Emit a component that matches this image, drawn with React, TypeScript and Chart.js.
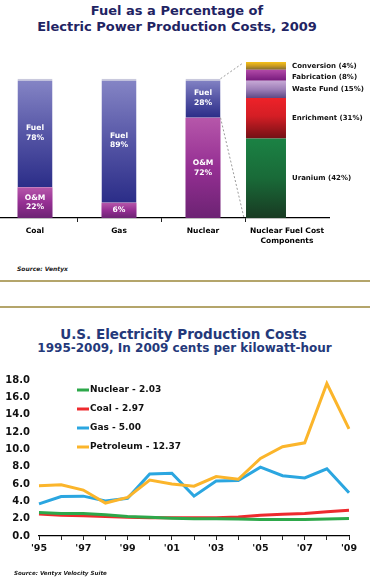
import React, { useEffect, useRef } from "react";
import { Chart, registerables } from "chart.js";

Chart.register(...registerables);

const FONT = '"DejaVu Sans", "Noto Sans", sans-serif';

// ---------- Top chart data ----------
const costCategories: (string | string[])[] = ["Coal", "Gas", "Nuclear", ["Nuclear Fuel Cost", "Components"]];
const omShare = [22, 11, 72, null];
const fuelShare = [78, 89, 28, null];
const omLabels = [["O&M", "22%"], ["6%"], ["O&M", "72%"]];
const fuelLabels = [["Fuel", "78%"], ["Fuel", "89%"], ["Fuel", "28%"]];
const componentNames = ["Uranium (42%)", "Enrichment (31%)", "Waste Fund (15%)", "Fabrication (8%)", "Conversion (4%)"];
const componentShare = [51, 26, 11, 7, 5];
const componentSlots = ["", "", "", "", "", "", "", ""];
const componentSlotIndex = 6;

// ---------- Bottom chart data ----------
const yearLabels = ["'95", "'96", "'97", "'98", "'99", "'00", "'01", "'02", "'03", "'04", "'05", "'06", "'07", "'08", "'09"];
const nuclearCost = [2.7, 2.6, 2.6, 2.45, 2.25, 2.15, 2.05, 2.0, 2.0, 1.95, 1.9, 1.9, 1.9, 1.95, 2.03];
const coalCost = [2.55, 2.4, 2.35, 2.25, 2.15, 2.1, 2.1, 2.1, 2.1, 2.2, 2.4, 2.5, 2.6, 2.8, 2.97];
const gasCost = [3.7, 4.55, 4.6, 4.05, 4.35, 7.15, 7.25, 4.6, 6.35, 6.4, 7.95, 6.95, 6.7, 7.75, 5.0];
const petroleumCost = [5.8, 5.9, 5.3, 3.8, 4.45, 6.45, 6.0, 5.75, 6.85, 6.55, 8.95, 10.3, 10.75, 17.6, 12.37];
const seriesNames = ["Nuclear - 2.03", "Coal - 2.97", "Gas - 5.00", "Petroleum - 12.37"];
const seriesColors = ["#2da84a", "#ee2a2e", "#2ba6e0", "#fbb52b"];
const yTicks = [0, 2, 4, 6, 8, 10, 12, 14, 16, 18];

type Stop = [number, string];

const makeGrad = (stops: Stop[]) => (c: any) => {
  const chart = c.chart;
  if (c.type !== "data") return stops[0][1];
  const ds = chart.data.datasets[c.datasetIndex];
  const axisId = ds.yAxisID || "y";
  const yScale = chart.scales[axisId];
  if (!yScale) return stops[0][1];
  let base = 0;
  for (let k = 0; k < c.datasetIndex; k++) {
    const d = chart.data.datasets[k];
    if ((d.yAxisID || "y") === axisId) base += Number(d.data[c.dataIndex]) || 0;
  }
  const val = Number(ds.data[c.dataIndex]) || 0;
  const top = yScale.getPixelForValue(base + val);
  const bottom = yScale.getPixelForValue(base);
  if (!isFinite(top) || !isFinite(bottom) || top === bottom) return stops[0][1];
  const g = chart.ctx.createLinearGradient(0, top, 0, bottom);
  stops.forEach(([o, col]) => g.addColorStop(o, col));
  return g;
};

const componentGrads: Stop[][] = [
  [[0, "#1b8244"], [0.5, "#196a38"], [1, "#183a22"]],
  [[0, "#ee2229"], [0.45, "#d41e25"], [1, "#731015"]],
  [[0, "#c7a9d6"], [0.5, "#9e7fb8"], [1, "#5e4a86"]],
  [[0, "#b24aa8"], [1, "#761a7c"]],
  [[0, "#f6c21a"], [0.5, "#c99a22"], [1, "#7d6a30"]],
];

const topPlugin = {
  id: "topLabels",
  afterDatasetsDraw(chart: any) {
    const ctx = chart.ctx;
    ctx.save();
    const omMeta = chart.getDatasetMeta(0);
    const fuelMeta = chart.getDatasetMeta(1);
    ctx.fillStyle = "#ffffff";
    ctx.font = `bold 7.6px ${FONT}`;
    ctx.textAlign = "center";
    ctx.textBaseline = "middle";
    const drawLines = (lines: string[], x: number, cy: number, lh: number) =>
      lines.forEach((t, i) => ctx.fillText(t, x, cy + (i - (lines.length - 1) / 2) * lh));
    for (let j = 0; j < 3; j++) {
      const o = omMeta.data[j];
      const f = fuelMeta.data[j];
      drawLines(omLabels[j], o.x, (o.y + o.base) / 2, 9.4);
      drawLines(fuelLabels[j], f.x, (f.y + f.base) / 2, 9.4);
    }
    // component labels
    ctx.fillStyle = "#111";
    ctx.font = `bold 7px ${FONT}`;
    ctx.textAlign = "left";
    for (let k = 0; k < componentNames.length; k++) {
      const el = chart.getDatasetMeta(2 + k).data[componentSlotIndex];
      ctx.fillText(componentNames[k], el.x + el.width / 2 + 6, (el.y + el.base) / 2 + (k === 3 ? 1.5 : 0));
    }
    // dashed connectors
    const nuc = fuelMeta.data[2];
    const compTop = chart.getDatasetMeta(2 + componentNames.length - 1).data[componentSlotIndex];
    const compBottom = chart.getDatasetMeta(2).data[componentSlotIndex];
    ctx.setLineDash([2, 2]);
    ctx.strokeStyle = "#9a9a9a";
    ctx.lineWidth = 1;
    ctx.beginPath();
    ctx.moveTo(nuc.x + nuc.width / 2, nuc.y);
    ctx.lineTo(compTop.x - compTop.width / 2 - 3, compTop.y + 1);
    ctx.moveTo(nuc.x + nuc.width / 2, nuc.base);
    ctx.lineTo(compBottom.x - compBottom.width / 2 - 2, compBottom.base);
    ctx.stroke();
    ctx.restore();
  },
};

const legendPlugin = {
  id: "inlineLegend",
  afterDatasetsDraw(chart: any) {
    const ctx = chart.ctx;
    const { left, top } = chart.chartArea;
    ctx.save();
    ctx.font = `bold 9px ${FONT}`;
    ctx.textBaseline = "middle";
    ctx.textAlign = "left";
    seriesNames.forEach((name, i) => {
      const y = top + 10 + i * 19;
      ctx.strokeStyle = seriesColors[i];
      ctx.lineWidth = 3;
      ctx.beginPath();
      ctx.moveTo(left + 38, y);
      ctx.lineTo(left + 50, y);
      ctx.stroke();
      ctx.fillStyle = "#111";
      ctx.fillText(name, left + 51, y);
    });
    ctx.restore();
  },
};

function TopChart() {
  const ref = useRef<HTMLCanvasElement>(null);
  useEffect(() => {
    if (!ref.current) return;
    const compData = (v: number) => componentSlots.map((_, i) => (i === componentSlotIndex ? v : null));
    const chart = new Chart(ref.current, {
      type: "bar",
      data: {
        labels: costCategories as any,
        datasets: [
          {
            label: "O&M",
            data: omShare,
            xAxisID: "x",
            yAxisID: "y",
            stack: "main",
            grouped: false,
            backgroundColor: makeGrad([[0, "#b657aa"], [0.5, "#952f93"], [1, "#6c2373"]]),
            barPercentage: 0.417,
            categoryPercentage: 1,
            borderWidth: 0,
          },
          {
            label: "Fuel",
            data: fuelShare,
            xAxisID: "x",
            yAxisID: "y",
            stack: "main",
            grouped: false,
            backgroundColor: makeGrad([[0, "#8686c6"], [0.5, "#5656a6"], [1, "#2b2d88"]]),
            borderColor: "#c9c9dd",
            borderWidth: { top: 2, left: 0, right: 0, bottom: 0 },
            borderSkipped: "start",
            barPercentage: 0.417,
            categoryPercentage: 1,
          },
          ...componentShare.map((v, k) => ({
            label: componentNames[k],
            data: compData(v),
            xAxisID: "x2",
            yAxisID: "y2",
            stack: "comp",
            grouped: false,
            backgroundColor: makeGrad(componentGrads[k]),
            borderWidth: 0,
            barPercentage: 0.952,
            categoryPercentage: 1,
          })),
        ] as any,
      },
      options: {
        animation: false,
        responsive: false,
        maintainAspectRatio: false,
        layout: { padding: { left: 0, right: 44, top: 12, bottom: 0 } },
        plugins: { legend: { display: false }, tooltip: { enabled: false } },
        scales: {
          x: {
            type: "category",
            stacked: true,
            offset: true,
            grid: {
              display: true,
              drawOnChartArea: false,
              drawTicks: true,
              tickLength: 4,
              offset: true,
              color: (c: any) => (c.index === undefined ? "rgba(0,0,0,0)" : "#222"),
            },
            border: { display: true, color: "#000", width: 1.2 },
            ticks: {
              color: "#000",
              font: { family: FONT, size: 7.5, weight: "bold", lineHeight: 1.32 },
              padding: 4,
              maxRotation: 0,
              autoSkip: false,
            },
            afterFit: (s: any) => {
              s.height = 42;
            },
          },
          y: { stacked: true, display: false, min: 0, max: 112 },
          x2: {
            type: "category",
            labels: componentSlots,
            stacked: true,
            offset: true,
            display: false,
          },
          y2: { stacked: true, display: false, min: 0, max: 100 },
        } as any,
      },
      plugins: [topPlugin],
    });
    return () => chart.destroy();
  }, []);
  return (
    <canvas
      ref={ref}
      width={380}
      height={210}
      style={{ position: "absolute", left: -7, top: 50, width: 380, height: 210 }}
    />
  );
}

function BottomChart() {
  const ref = useRef<HTMLCanvasElement>(null);
  useEffect(() => {
    if (!ref.current) return;
    const series = [nuclearCost, coalCost, gasCost, petroleumCost];
    const orders = [0, 1, 3, 2];
    const chart = new Chart(ref.current, {
      type: "line",
      data: {
        labels: yearLabels,
        datasets: series.map((d, i) => ({
          label: seriesNames[i],
          data: d,
          borderColor: seriesColors[i],
          backgroundColor: seriesColors[i],
          borderWidth: 3,
          pointRadius: 0,
          tension: 0,
          fill: false,
          order: orders[i],
        })),
      },
      options: {
        animation: false,
        responsive: false,
        maintainAspectRatio: false,
        layout: { padding: { left: 0, right: 21, top: 20, bottom: 20 } },
        plugins: { legend: { display: false }, tooltip: { enabled: false } },
        scales: {
          x: {
            type: "category",
            offset: false,
            grid: { display: true, drawOnChartArea: false, drawTicks: true, tickLength: 4, color: "#222" },
            border: { display: true, color: "#000", width: 1.2 },
            ticks: {
              color: "#111",
              font: { family: FONT, size: 9.5, weight: "bold" },
              padding: 3,
              maxRotation: 0,
              autoSkip: false,
              callback: (_v: any, i: number) => (i % 2 === 0 ? yearLabels[i] : ""),
            },
            afterFit: (s: any) => {
              s.height = 25;
            },
          },
          y: {
            min: 0,
            max: 18,
            grid: { display: false, drawTicks: false },
            border: { display: false },
            afterBuildTicks: (s: any) => {
              s.ticks = yTicks.map((v) => ({ value: v }));
            },
            ticks: {
              color: "#111",
              font: { family: FONT, size: 10, weight: "bold" },
              padding: 9,
              callback: (v: any) => Number(v).toFixed(1),
            },
            afterFit: (s: any) => {
              s.width = 39;
            },
          },
        } as any,
      },
      plugins: [legendPlugin],
    });
    return () => chart.destroy();
  }, []);
  return (
    <canvas
      ref={ref}
      width={370}
      height={221}
      style={{ position: "absolute", left: 0, top: 360, width: 370, height: 221 }}
    />
  );
}

export default function App() {
  const goldLine: React.CSSProperties = {
    position: "absolute",
    left: 0,
    width: 370,
    height: 2,
    background: "#b4a56b",
  };
  return (
    <div
      style={{
        position: "fixed",
        left: 0,
        top: 0,
        width: 370,
        height: 581,
        overflow: "hidden",
        background: "#ffffff",
        fontFamily: FONT,
      }}
    >
      <div
        style={{
          position: "absolute",
          left: 0,
          top: 2.5,
          width: 354,
          textAlign: "center",
          fontWeight: "bold",
          fontSize: 13,
          lineHeight: "16px",
          color: "#1f2463",
          whiteSpace: "nowrap",
        }}
      >
        <div>Fuel as a Percentage of</div>
        <div>Electric Power Production Costs, 2009</div>
      </div>
      <TopChart />
      <div
        style={{
          position: "absolute",
          left: 17,
          top: 265,
          fontSize: 6,
          lineHeight: "7px",
          fontStyle: "italic",
          fontWeight: "bold",
          color: "#222",
          whiteSpace: "nowrap",
        }}
      >
        Source: Ventyx
      </div>
      <div style={{ ...goldLine, top: 280 }} />
      <div style={{ ...goldLine, top: 306 }} />
      <div
        style={{
          position: "absolute",
          left: 0,
          top: 327,
          width: 367,
          textAlign: "center",
          fontWeight: "bold",
          fontSize: 13.5,
          lineHeight: "14px",
          color: "#24397a",
          whiteSpace: "nowrap",
        }}
      >
        U.S. Electricity Production Costs
      </div>
      <div
        style={{
          position: "absolute",
          left: 0,
          top: 342,
          width: 369,
          textAlign: "center",
          fontWeight: "bold",
          fontSize: 12,
          lineHeight: "13px",
          color: "#24397a",
          whiteSpace: "nowrap",
        }}
      >
        1995-2009, In 2009 cents per kilowatt-hour
      </div>
      <BottomChart />
      <div
        style={{
          position: "absolute",
          left: 14,
          top: 570,
          fontSize: 5.6,
          lineHeight: "7px",
          fontStyle: "italic",
          fontWeight: "bold",
          color: "#222",
          whiteSpace: "nowrap",
        }}
      >
        Source: Ventyx Velocity Suite
      </div>
    </div>
  );
}
